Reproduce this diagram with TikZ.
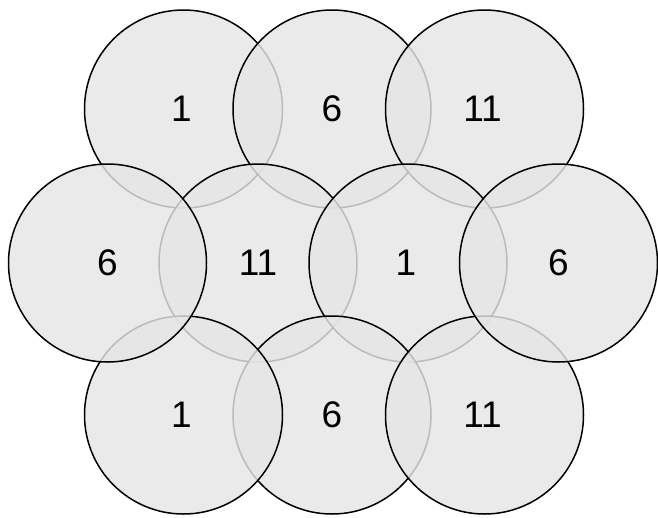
\documentclass[tikz,border=0pt]{standalone}
\usepackage{fontspec}
\setmainfont{Liberation Sans}
\definecolor{cellfill}{gray}{0.9}
\begin{document}
\begin{tikzpicture}[x=1pt,y=-1pt,
  cell/.style={circle,draw=black,line width=1.5pt,fill=cellfill,fill opacity=0.82,
    draw opacity=1,text opacity=1,minimum size=198pt,inner sep=0pt,
    font=\fontsize{37}{40}\selectfont}]
\useasboundingbox (0,0) rectangle (658,517);
% top row
\node[cell] (t1) at (183.5,109) {\hspace*{-4pt}1};
\node[cell] (t6) at (332,109) {6};
\node[cell] (t11) at (484.5,109) {\hspace*{-4pt}11};
% middle/bottom in visible stacking order
\node[cell] (m11) at (258,263) {11};
\node[cell] (m1) at (408,263) {\hspace*{-4pt}1};
\node[cell] (b6) at (332,415) {6};
\node[cell] (b1) at (183.5,415) {\hspace*{-4pt}1};
\node[cell] (b11) at (484.5,415) {\hspace*{-4pt}11};
\node[cell] (m6a) at (107.5,263) {6};
\node[cell] (m6b) at (558.5,263) {6};
\end{tikzpicture}
\end{document}
